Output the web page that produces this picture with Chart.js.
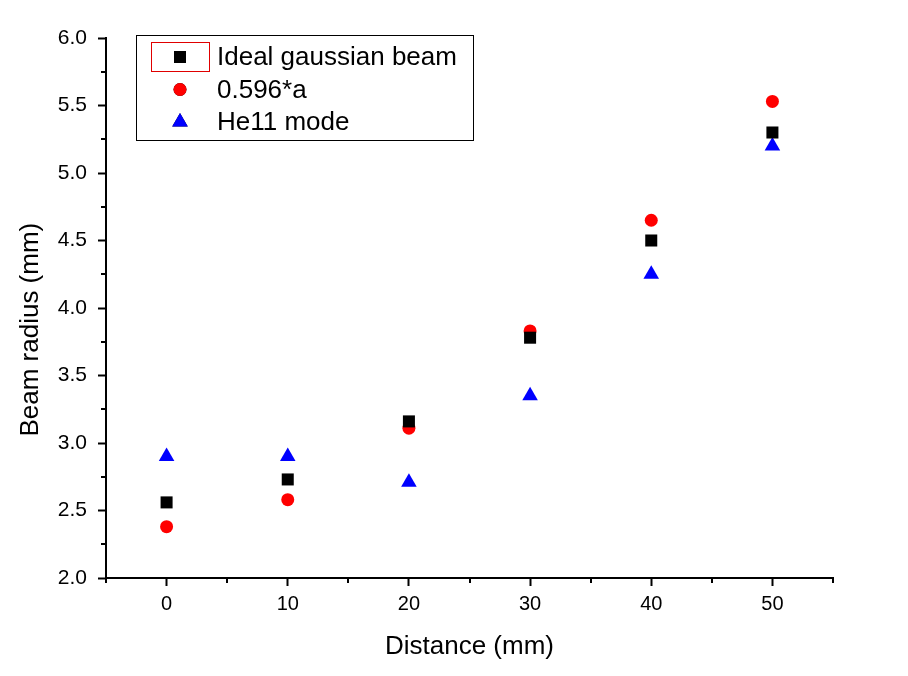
<!DOCTYPE html>
<html>
<head>
<meta charset="utf-8">
<script src="https://cdn.jsdelivr.net/npm/chart.js@4.4.0/dist/chart.umd.min.js"></script>
<style>
  html, body { margin: 0; padding: 0; background: #fff; }
</style>
</head>
<body>
<canvas id="beam-chart" width="908" height="676"></canvas>
<script>
// Data
const distances = [0, 10, 20, 30, 40, 50];
const idealGaussian = [2.56, 2.73, 3.16, 3.78, 4.50, 5.30];
const fitA = [2.38, 2.58, 3.11, 3.83, 4.65, 5.53];
const he11Mode = [2.90, 2.90, 2.71, 3.35, 4.25, 5.20];

// Axis ticks
const xTicks = [0, 10, 20, 30, 40, 50];
const xMinorTicks = [-5, 5, 15, 25, 35, 45, 55];
const yTicks = [2.0, 2.5, 3.0, 3.5, 4.0, 4.5, 5.0, 5.5, 6.0];
const yMinorTicks = [2.25, 2.75, 3.25, 3.75, 4.25, 4.75, 5.25, 5.75];

const FONT = 'Liberation Sans, Arial, sans-serif';

function toPoints(values) {
  return distances.map((d, i) => ({ x: d, y: values[i] }));
}

// Minor tick marks on both axes
const minorTicks = {
  id: 'minorTicks',
  afterDraw(chart) {
    const ctx = chart.ctx;
    const xs = chart.scales.x;
    const ys = chart.scales.y;
    ctx.save();
    ctx.strokeStyle = '#000';
    ctx.lineWidth = 2;
    ctx.beginPath();
    xMinorTicks.forEach(v => {
      const px = Math.round(xs.getPixelForValue(v));
      ctx.moveTo(px, xs.top);
      ctx.lineTo(px, xs.top + 5);
    });
    yMinorTicks.forEach(v => {
      const py = Math.round(ys.getPixelForValue(v));
      ctx.moveTo(ys.right, py);
      ctx.lineTo(ys.right - 5, py);
    });
    ctx.stroke();
    ctx.restore();
  }
};

// Boxed legend in the upper left of the plot
const boxLegend = {
  id: 'boxLegend',
  afterDraw(chart) {
    const ctx = chart.ctx;
    const left = 136, top = 35, width = 337, height = 105;
    ctx.save();
    ctx.fillStyle = '#fff';
    ctx.fillRect(left, top, width, height);
    ctx.strokeStyle = '#000';
    ctx.lineWidth = 1;
    ctx.strokeRect(left + 0.5, top + 0.5, width, height);

    // selection frame round the first marker
    ctx.strokeStyle = '#e00000';
    ctx.strokeRect(151.5, 42.5, 58, 29);

    ctx.font = '26px ' + FONT;
    ctx.textBaseline = 'middle';
    ctx.textAlign = 'left';
    chart.data.datasets.forEach((ds, i) => {
      const y = 57 + i * 32.5;
      Chart.helpers.drawPoint(ctx, {
        pointStyle: ds.pointStyle,
        radius: ds.pointRadius,
        rotation: 0,
        borderWidth: 0
      }, 180, y);
      ctx.fillStyle = ds.backgroundColor;
      ctx.fill();
      ctx.fillStyle = '#000';
      ctx.fillText(ds.label, 217, y + 1);
    });
    ctx.restore();
  }
};

const ctx = document.getElementById('beam-chart').getContext('2d');
const beamChart = new Chart(ctx, {
  type: 'scatter',
  data: {
    datasets: [
      {
        label: 'Ideal gaussian beam',
        data: toPoints(idealGaussian),
        pointStyle: 'rect',
        pointRadius: 8.5,
        backgroundColor: '#000000',
        borderWidth: 0
      },
      {
        label: '0.596*a',
        data: toPoints(fitA),
        pointStyle: 'circle',
        pointRadius: 6.5,
        backgroundColor: '#ff0000',
        borderWidth: 0
      },
      {
        label: 'He11 mode',
        data: toPoints(he11Mode),
        pointStyle: 'triangle',
        pointRadius: 9,
        backgroundColor: '#0000ff',
        borderWidth: 0
      }
    ]
  },
  options: {
    responsive: false,
    animation: false,
    events: [],
    layout: {
      padding: { left: 0, top: 38, right: 75, bottom: 8 }
    },
    scales: {
      x: {
        type: 'linear',
        min: -5,
        max: 55,
        afterBuildTicks: s => { s.ticks = xTicks.map(v => ({ value: v })); },
        afterFit: s => { s.height = 90; },
        grid: { drawOnChartArea: false, drawTicks: true, tickLength: 8, tickWidth: 2, tickColor: '#000' },
        border: { display: true, color: '#000', width: 2 },
        ticks: { color: '#000', font: { family: FONT, size: 20 }, padding: 6, maxRotation: 0, autoSkip: false },
        title: {
          display: true,
          text: 'Distance (mm)',
          color: '#000',
          font: { family: FONT, size: 26 },
          padding: { top: 0, bottom: 6 }
        }
      },
      y: {
        type: 'linear',
        min: 2,
        max: 6,
        afterBuildTicks: s => { s.ticks = yTicks.map(v => ({ value: v })); },
        afterFit: s => { s.width = 106; },
        grid: { drawOnChartArea: false, drawTicks: true, tickLength: 8, tickWidth: 2, tickColor: '#000' },
        border: { display: true, color: '#000', width: 2 },
        ticks: {
          color: '#000',
          font: { family: FONT, size: 21 },
          padding: 11,
          callback: v => v.toFixed(1)
        },
        title: {
          display: true,
          text: 'Beam radius (mm)      ',
          color: '#000',
          font: { family: FONT, size: 26 },
          padding: { top: 15, bottom: 0 }
        }
      }
    },
    plugins: {
      legend: { display: false },
      tooltip: { enabled: false }
    }
  },
  plugins: [minorTicks, boxLegend]
});
</script>
</body>
</html>
